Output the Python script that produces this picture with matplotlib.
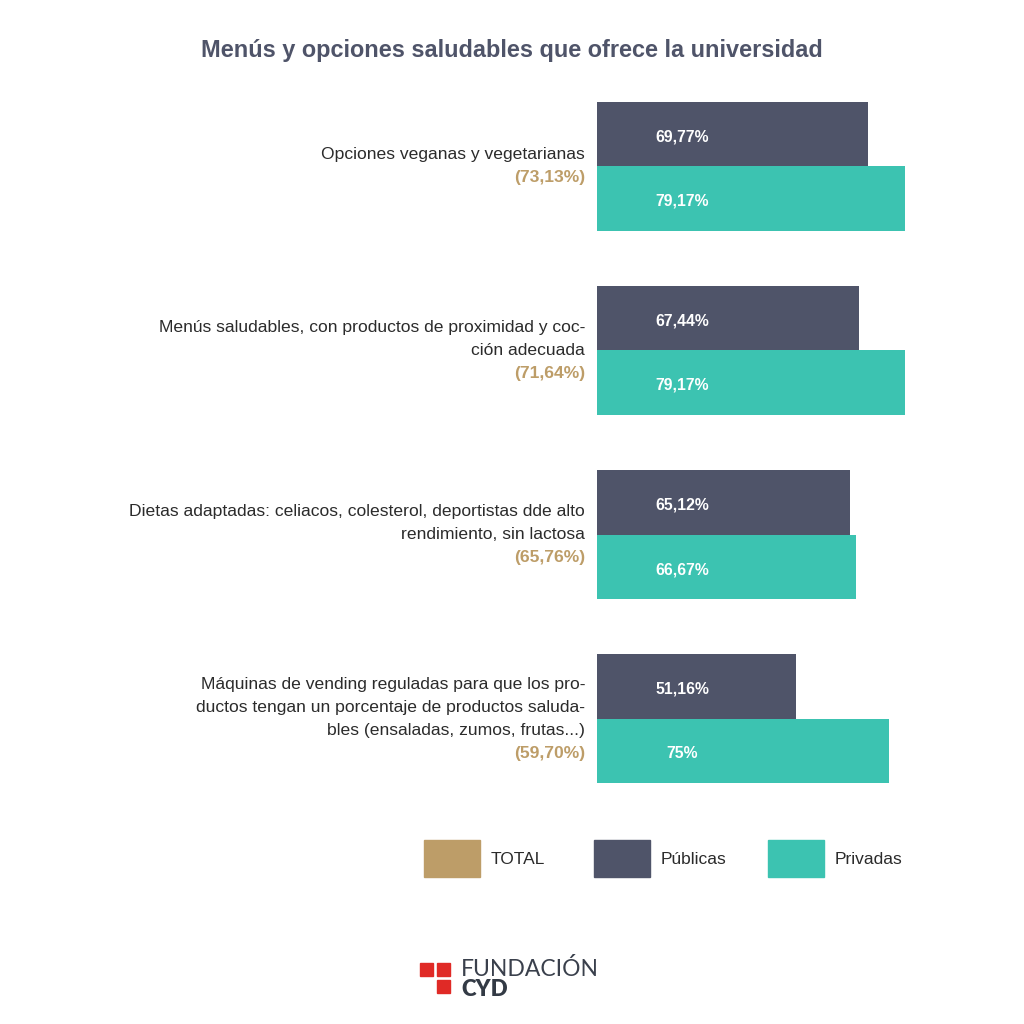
import matplotlib.pyplot as plt
from matplotlib.patches import Rectangle

plt.rcParams['font.family'] = ['Liberation Sans', 'DejaVu Sans']

# Data
categorias = [
    ['Opciones veganas y vegetarianas'],
    ['Menús saludables, con productos de proximidad y coc-', 'ción adecuada'],
    ['Dietas adaptadas: celiacos, colesterol, deportistas dde alto', 'rendimiento, sin lactosa'],
    ['Máquinas de vending reguladas para que los pro-',
     'ductos tengan un porcentaje de productos saluda-',
     'bles (ensaladas, zumos, frutas...)'],
]
total = [73.13, 71.64, 65.76, 59.70]
publicas = [69.77, 67.44, 65.12, 51.16]
privadas = [79.17, 79.17, 66.67, 75.0]
etiq_publicas = ['69,77%', '67,44%', '65,12%', '51,16%']
etiq_privadas = ['79,17%', '79,17%', '66,67%', '75%']
etiq_total = ['(73,13%)', '(71,64%)', '(65,76%)', '(59,70%)']

c_total = '#bd9d68'
c_pub = '#4f5469'
c_priv = '#3cc3b1'
c_text = '#2b2b2b'

fig = plt.figure(figsize=(10.24, 10.24), dpi=100)
ax = fig.add_axes([597 / 1024, 1 - 811 / 1024, 389 / 1024, 737 / 1024])
ax.set_xlim(0, 100)
ax.set_ylim(3.5, -0.5)
ax.axis('off')

h = 0.35
for i in range(len(categorias)):
    ax.barh(i - h / 2, publicas[i], height=h, color=c_pub)
    ax.barh(i + h / 2, privadas[i], height=h, color=c_priv)
    ax.text(22, i - h / 2 + 0.015, etiq_publicas[i], color='white', fontsize=11.3,
            fontweight='bold', ha='center', va='center')
    ax.text(22, i + h / 2 + 0.015, etiq_privadas[i], color='white', fontsize=11.3,
            fontweight='bold', ha='center', va='center')

    # category label lines + total, centred on the group
    lineas = categorias[i] + [etiq_total[i]]
    n = len(lineas)
    step = 16.6  # points between lines
    for k, linea in enumerate(lineas):
        off = ((n - 1) / 2 - k) * step
        es_total = k == n - 1
        ax.annotate(linea, xy=(0, i), xytext=(-8.5, off), textcoords='offset points',
                    ha='right', va='center', fontsize=12.6,
                    color=c_total if es_total else c_text,
                    fontweight='bold' if es_total else 'normal')

fig.text(0.5, 1 - 51 / 1024, 'Menús y opciones saludables que ofrece la universidad',
         ha='center', va='center', fontsize=16.9, fontweight='bold', color=c_pub)

# legend
leyenda = [('TOTAL', c_total, 424), ('Públicas', c_pub, 594), ('Privadas', c_priv, 768)]
for nombre, col, x0 in leyenda:
    fig.patches.append(Rectangle((x0 / 1024, 1 - 877 / 1024), 56 / 1024, 37 / 1024,
                                 transform=fig.transFigure, color=col))
    fig.text((x0 + 67) / 1024, 1 - 859 / 1024, nombre, ha='left', va='center',
             fontsize=12.5, color=c_text)

# logo
rojo = '#e02a26'
for (lx, ly) in [(420, 963), (437, 963), (437, 980)]:
    fig.patches.append(Rectangle((lx / 1024, 1 - (ly + 13) / 1024), 13 / 1024, 13 / 1024,
                                 transform=fig.transFigure, color=rojo))
fig.text(461 / 1024, 1 - 976 / 1024, 'FUNDACIÓN', ha='left', va='baseline',
         fontsize=16.5, color='#3a404c', family=['Lato', 'DejaVu Sans'], fontweight='normal')
fig.text(461 / 1024, 1 - 996 / 1024, 'CYD', ha='left', va='baseline',
         fontsize=16, color='#333a45', family=['Lato', 'DejaVu Sans'], fontweight='heavy')

fig.savefig('out.png', dpi=100, facecolor='white')
